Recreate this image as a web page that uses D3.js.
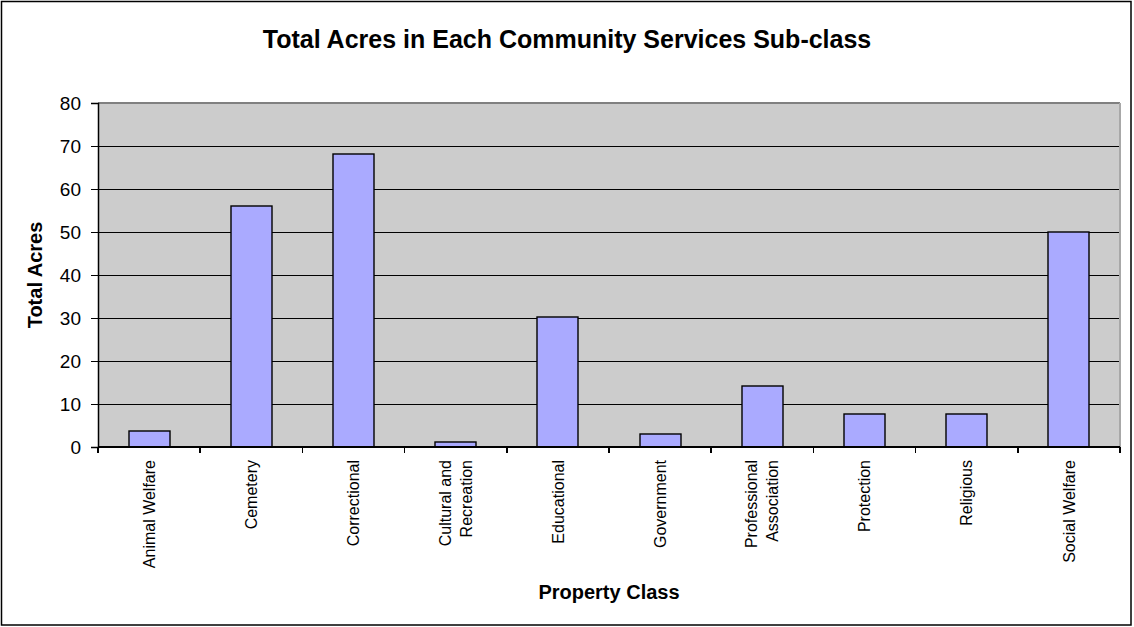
<!DOCTYPE html>
<html>
<head>
<meta charset="utf-8">
<script src="https://cdn.jsdelivr.net/npm/d3@7"></script>
<style>
  html, body { margin: 0; padding: 0; background: #fff; }
  svg { display: block; font-family: "Liberation Sans", Arial, sans-serif; }
  line { shape-rendering: crispEdges; }
</style>
</head>
<body>
<svg id="chart" width="1134" height="627"></svg>
<script>
const categories = ["Animal Welfare", "Cemetery", "Correctional", "Cultural and Recreation", "Educational", "Government", "Professional Association", "Protection", "Religious", "Social Welfare"];
const tickLabelLines = [["Animal Welfare"], ["Cemetery"], ["Correctional"], ["Cultural and", "Recreation"], ["Educational"], ["Government"], ["Professional", "Association"], ["Protection"], ["Religious"], ["Social Welfare"]];
const totalAcres = [3.8, 56.1, 68.1, 1.2, 30.3, 3.0, 14.3, 7.7, 7.7, 49.9];
const yTicks = [0, 10, 20, 30, 40, 50, 60, 70, 80];
const chartTitle = "Total Acres in Each Community Services Sub-class";
const xTitle = "Property Class";
const yTitle = "Total Acres";

const svg = d3.select("#chart");
const plot = { left: 98, right: 1120, top: 103, bottom: 447 };

// outer frame
svg.append("rect").attr("x", 1.5).attr("y", 1.5).attr("width", 1129.5).attr("height", 623.5)
  .attr("fill", "#fff").attr("stroke", "#000").attr("stroke-width", 1.5);

const x = d3.scaleBand().domain(categories).range([plot.left, plot.right])
  .paddingInner(0.6).paddingOuter(0.3);
const y = d3.scaleLinear().domain([0, 80]).range([plot.bottom, plot.top]);

// plot background
svg.append("rect").attr("x", plot.left).attr("y", plot.top)
  .attr("width", plot.right - plot.left).attr("height", plot.bottom - plot.top)
  .attr("fill", "#cccccc").style("shape-rendering", "crispEdges");

// gridlines
svg.append("g").selectAll("line").data(yTicks.filter(d => d > 0 && d < 80)).join("line")
  .attr("x1", plot.left).attr("x2", plot.right)
  .attr("y1", d => y(d) + 0.5).attr("y2", d => y(d) + 0.5)
  .attr("stroke", "#000").attr("stroke-width", 1);
// top and right border (grey)
svg.append("line").attr("x1", plot.left).attr("x2", plot.right).attr("y1", y(80)).attr("y2", y(80))
  .attr("stroke", "#808080").attr("stroke-width", 2);
svg.append("line").attr("x1", plot.right).attr("x2", plot.right).attr("y1", plot.top).attr("y2", plot.bottom)
  .attr("stroke", "#a8a8a8").attr("stroke-width", 2);

// bars
svg.append("g").selectAll("rect").data(categories).join("rect")
  .attr("x", d => Math.round(x(d)))
  .attr("width", Math.round(x.bandwidth()))
  .attr("y", (d, i) => Math.round(y(totalAcres[i])))
  .attr("height", (d, i) => y(0) - Math.round(y(totalAcres[i])))
  .attr("fill", "#aaaaff").attr("stroke", "#000").attr("stroke-width", 1.4);

// y axis
const yAxis = d3.axisLeft(y).tickValues(yTicks).tickSize(7).tickPadding(10).tickFormat(d3.format("d"));
const gy = svg.append("g").attr("transform", `translate(${plot.left},0)`).call(yAxis);
gy.select(".domain").attr("stroke", "#000").attr("stroke-width", 1.5);
gy.selectAll(".tick line").attr("stroke", "#000").attr("stroke-width", 1.5);
gy.selectAll(".tick text").attr("font-size", 19).attr("fill", "#000")
  .attr("font-family", "Liberation Sans, Arial, sans-serif");

// x axis baseline
svg.append("line").attr("x1", plot.left).attr("x2", plot.right).attr("y1", y(0)).attr("y2", y(0))
  .attr("stroke", "#000").attr("stroke-width", 1.5);
// x tick marks at category boundaries
const boundaries = categories.map(d => x(d) + x.bandwidth() / 2 - x.step() / 2);
boundaries.push(x(categories[categories.length - 1]) + x.bandwidth() / 2 + x.step() / 2);
svg.append("g").selectAll("line").data(boundaries).join("line")
  .attr("x1", d => d).attr("x2", d => d).attr("y1", y(0)).attr("y2", y(0) + 6)
  .attr("stroke", "#000").attr("stroke-width", 1.5);

// category labels (rotated)
const lab = svg.append("g");
categories.forEach((c, i) => {
  const cx = x(c) + x.bandwidth() / 2;
  const lines = tickLabelLines[i];
  lines.forEach((t, j) => {
    const off = (j - (lines.length - 1) / 2) * 21;
    lab.append("text")
      .attr("transform", `translate(${cx + off},${plot.bottom + 13}) rotate(-90)`)
      .attr("text-anchor", "end").attr("dy", "0.35em")
      .attr("font-size", 16).attr("fill", "#000").text(t);
  });
});

// titles
svg.append("text").attr("x", 567).attr("y", 48).attr("text-anchor", "middle")
  .attr("font-size", 25).attr("font-weight", "bold").attr("fill", "#000").text(chartTitle);
svg.append("text").attr("x", 609).attr("y", 599).attr("text-anchor", "middle")
  .attr("font-size", 20).attr("font-weight", "bold").attr("fill", "#000").text(xTitle);
svg.append("text").attr("transform", `translate(35,${(plot.top + plot.bottom) / 2}) rotate(-90)`)
  .attr("text-anchor", "middle").attr("dy", "0.35em")
  .attr("font-size", 20).attr("font-weight", "bold").attr("fill", "#000").text(yTitle);
</script>
</body>
</html>
